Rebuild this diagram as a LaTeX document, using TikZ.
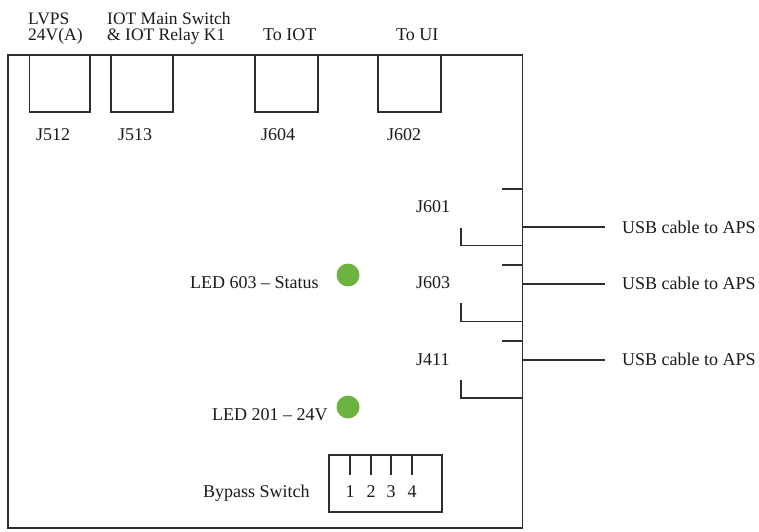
\documentclass[tikz,border=0pt]{standalone}
\usepackage{fontspec}
\setmainfont{Liberation Serif}
\definecolor{linec}{HTML}{2E2E2E}
\definecolor{ledgreen}{HTML}{6DB33F}
\definecolor{txtc}{HTML}{1A1A1A}
\tikzset{
  board/.style={draw=linec, line width=1.4pt},
  conn/.style={draw=linec, line width=1.3pt},
  usb/.style={draw=linec, line width=1.8pt},
  lbl/.style={anchor=base west, inner sep=0pt, text=txtc, font=\fontsize{18}{15.5}\selectfont, align=left},
  toplbl/.style={lbl, font=\fontsize{17.5}{15}\selectfont},
  led/.style={circle, fill=ledgreen, minimum size=23pt, inner sep=0pt},
}
\begin{document}
\begin{tikzpicture}[x=1pt, y=-1pt]
\useasboundingbox (0,0) rectangle (759,531);
% board
\draw[board] (8,55) rectangle (522.5,528);
% top connectors
\draw[conn] (29.5,55) rectangle (90,112);
\draw[conn] (111,55) rectangle (173,112);
\draw[conn] (255,55) rectangle (318,112);
\draw[conn] (378,55) rectangle (441,112);
% top labels
\node[toplbl] (lvps) at (28,24) {LVPS};
\node[toplbl] (lvps2) at (28,40.5) {24V(A)};
\node[toplbl] (iot1) at (107,24) {IOT Main Switch};
\node[toplbl] (iot2) at (107,40.5) {\& IOT Relay K1};
\node[lbl] (toiot) at (263,40.5) {To IOT};
\node[lbl] (toui) at (396,40.5) {To UI};
\node[lbl] (j512) at (36,140) {J512};
\node[lbl] (j513) at (118,140) {J513};
\node[lbl] (j604) at (261,140) {J604};
\node[lbl] (j602) at (387,140) {J602};
% right side connectors
\draw[conn] (502,189) -- (522.5,189);
\draw[conn] (461,228) -- (461,245.7) -- (522.5,245.7);
\draw[conn] (502,265) -- (522.5,265);
\draw[conn] (461,303) -- (461,321.7) -- (522.5,321.7);
\draw[conn] (502,341) -- (522.5,341);
\draw[conn] (461,380) -- (461,398) -- (522.5,398);
\node[lbl] (j601) at (416,212) {J601};
\node[lbl] (j603) at (416,288) {J603};
\node[lbl] (j411) at (416,365) {J411};
% USB cables
\coordinate (p601) at (522.5,226.7);
\coordinate (p603) at (522.5,283.7);
\coordinate (p411) at (522.5,360);
\node[lbl] (usb1) at (622,233) {USB cable to APS};
\node[lbl] (usb2) at (622,289) {USB cable to APS};
\node[lbl] (usb3) at (622,365) {USB cable to APS};
\coordinate (e601) at (605,226.7);
\coordinate (e603) at (605,283.7);
\coordinate (e411) at (605,360);
\draw[usb] (p601) -- (e601);
\draw[usb] (p603) -- (e603);
\draw[usb] (p411) -- (e411);
% LEDs
\node[led] (led603) at (348,275) {};
\node[led] (led201) at (348,407) {};
\node[lbl] (l603) at (190,288) {LED 603 -- Status};
\node[lbl] (l201) at (212,420) {LED 201 -- 24V};
% bypass switch
\draw[conn] (329,455) rectangle (442,512);
\foreach \x/\n in {350/1,371/2,391/3,412/4}{
  \draw[conn] (\x,455) -- (\x,475);
  \node[lbl, anchor=base] (sw\n) at (\x,497) {\n};
}
\node[lbl] (byp) at (203,497) {Bypass Switch};
\end{tikzpicture}
\end{document}
